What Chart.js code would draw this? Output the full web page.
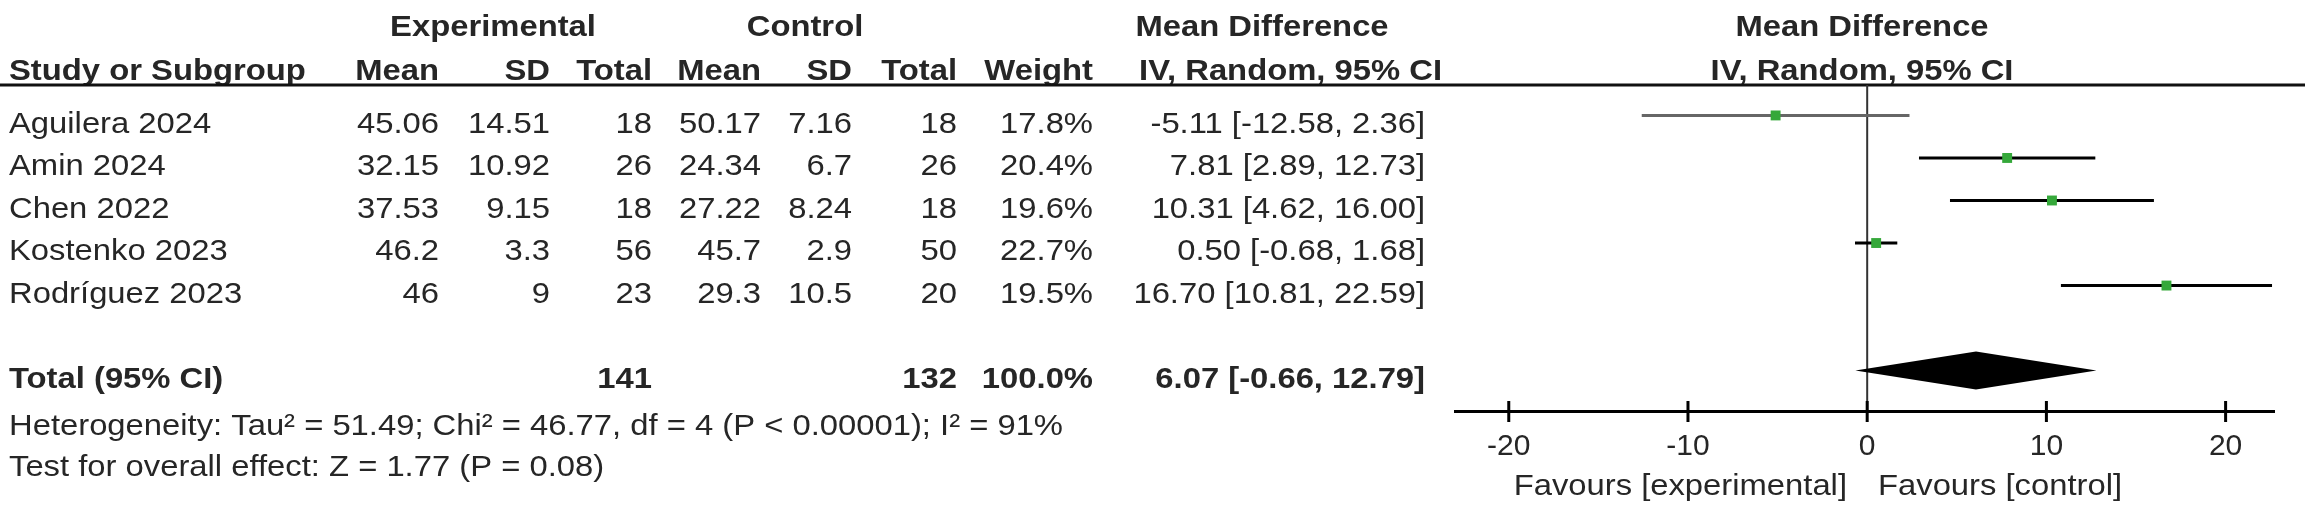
<!DOCTYPE html>
<html>
<head>
<meta charset="utf-8">
<script src="https://cdn.jsdelivr.net/npm/chart.js@4/dist/chart.umd.min.js"></script>
<style>
html,body{margin:0;padding:0;background:#fff;}
#wrap{width:2305px;height:508px;}
</style>
</head>
<body>
<div id="wrap"><canvas id="forest"></canvas></div>
<script>
const studies = ["Aguilera 2024", "Amin 2024", "Chen 2022", "Kostenko 2023", "Rodríguez 2023"];
const expMean = ["45.06", "32.15", "37.53", "46.2", "46"];
const expSD = ["14.51", "10.92", "9.15", "3.3", "9"];
const expN = [18, 26, 18, 56, 23];
const ctlMean = ["50.17", "24.34", "27.22", "45.7", "29.3"];
const ctlSD = ["7.16", "6.7", "8.24", "2.9", "10.5"];
const ctlN = [18, 26, 18, 50, 20];
const weights = ["17.8%", "20.4%", "19.6%", "22.7%", "19.5%"];
const md = [-5.11, 7.81, 10.31, 0.50, 16.70];
const lower = [-12.58, 2.89, 4.62, -0.68, 10.81];
const upper = [2.36, 12.73, 16.00, 1.68, 22.59];
const ciText = ["-5.11 [-12.58, 2.36]", "7.81 [2.89, 12.73]", "10.31 [4.62, 16.00]", "0.50 [-0.68, 1.68]", "16.70 [10.81, 22.59]"];
const total = {est: 6.07, lo: -0.66, hi: 12.79, expN: 141, ctlN: 132, weight: "100.0%", text: "6.07 [-0.66, 12.79]"};
const heterogeneity = "Heterogeneity: Tau² = 51.49; Chi² = 46.77, df = 4 (P < 0.00001); I² = 91%";
const overall = "Test for overall effect: Z = 1.77 (P = 0.08)";
const xTicks = [-20, -10, 0, 10, 20];

const ink = "#262626";
const FONT = '"Liberation Sans", Arial, sans-serif';
let squeeze = 1;

function txt(ctx, s, x, y, align, bold){
    ctx.save();
    ctx.font = (bold ? "bold " : "") + "30px " + FONT;
    ctx.textBaseline = "middle";
    ctx.fillStyle = ink;
    const w = ctx.measureText(s).width * squeeze;
    let left = x;
    if(align === "right") left = x - w;
    if(align === "center") left = x - w / 2;
    ctx.translate(left, y);
    ctx.scale(squeeze, 1);
    ctx.fillText(s, 0, 0);
    ctx.restore();
}

const forestPlugin = {
    id: "forest",
    beforeDatasetsDraw(chart){
        const ctx = chart.ctx, xs = chart.scales.x, ys = chart.scales.y;
        ctx.save();
        ctx.font = "30px " + FONT;
        squeeze = 1054 / ctx.measureText(heterogeneity).width;

        // header
        txt(ctx, "Experimental", 493, 28, "center", true);
        txt(ctx, "Control", 805, 28, "center", true);
        txt(ctx, "Mean Difference", 1262, 28, "center", true);
        txt(ctx, "Mean Difference", 1862, 28, "center", true);
        txt(ctx, "Study or Subgroup", 9, 72, "left", true);
        const heads = [["Mean",439],["SD",550],["Total",652],["Mean",761],["SD",852],["Total",957],["Weight",1093]];
        heads.forEach(h => txt(ctx, h[0], h[1], 72, "right", true));
        txt(ctx, "IV, Random, 95% CI", 1442, 72, "right", true);
        txt(ctx, "IV, Random, 95% CI", 1862, 72, "center", true);
        ctx.strokeStyle = "#111";
        ctx.lineWidth = 3;
        ctx.beginPath(); ctx.moveTo(0, 85); ctx.lineTo(2305, 85); ctx.stroke();

        // rows
        studies.forEach((s, i) => {
            const y = ys.getPixelForValue(i + 1) + 9;
            txt(ctx, s, 9, y, "left");
            txt(ctx, expMean[i], 439, y, "right");
            txt(ctx, expSD[i], 550, y, "right");
            txt(ctx, String(expN[i]), 652, y, "right");
            txt(ctx, ctlMean[i], 761, y, "right");
            txt(ctx, ctlSD[i], 852, y, "right");
            txt(ctx, String(ctlN[i]), 957, y, "right");
            txt(ctx, weights[i], 1093, y, "right");
            txt(ctx, ciText[i], 1425, y, "right");
        });
        const ty = ys.getPixelForValue(7) + 9;
        txt(ctx, "Total (95% CI)", 9, ty, "left", true);
        txt(ctx, String(total.expN), 652, ty, "right", true);
        txt(ctx, String(total.ctlN), 957, ty, "right", true);
        txt(ctx, total.weight, 1093, ty, "right", true);
        txt(ctx, total.text, 1425, ty, "right", true);
        txt(ctx, heterogeneity, 9, 427, "left");
        txt(ctx, overall, 9, 468, "left");

        // zero line
        const x0 = xs.getPixelForValue(0);
        ctx.strokeStyle = "#333";
        ctx.lineWidth = 2;
        ctx.beginPath(); ctx.moveTo(x0, 85); ctx.lineTo(x0, xs.top); ctx.stroke();

        // CI lines
        ctx.lineWidth = 3;
        md.forEach((m, i) => {
            const y = ys.getPixelForValue(i + 1);
            ctx.strokeStyle = i === 0 ? "#666" : "#000";
            ctx.beginPath();
            ctx.moveTo(xs.getPixelForValue(lower[i]), y);
            ctx.lineTo(xs.getPixelForValue(upper[i]), y);
            ctx.stroke();
        });

        // diamond
        const dy = ys.getPixelForValue(7);
        ctx.fillStyle = "#000";
        ctx.beginPath();
        ctx.moveTo(xs.getPixelForValue(total.lo), dy);
        ctx.lineTo(xs.getPixelForValue(total.est), dy - 19);
        ctx.lineTo(xs.getPixelForValue(total.hi), dy);
        ctx.lineTo(xs.getPixelForValue(total.est), dy + 19);
        ctx.closePath();
        ctx.fill();

        // axis ticks crossing the axis line
        ctx.strokeStyle = "#000";
        ctx.lineWidth = 3;
        xTicks.forEach(t => {
            const px = xs.getPixelForValue(t);
            ctx.beginPath(); ctx.moveTo(px, xs.top - 10); ctx.lineTo(px, xs.top + 11); ctx.stroke();
        });

        txt(ctx, "Favours [experimental]", 1847, 487, "right");
        txt(ctx, "Favours [control]", 1878, 487, "left");
        ctx.restore();
    }
};

new Chart(document.getElementById("forest"), {
    type: "scatter",
    data: {
        datasets: [{
            data: md.map((m, i) => ({x: m, y: i + 1})),
            pointStyle: "rect",
            pointRadius: 7,
            pointHoverRadius: 7,
            backgroundColor: "#35a83a",
            borderColor: "#35a83a",
            borderWidth: 0
        }]
    },
    options: {
        responsive: true,
        maintainAspectRatio: false,
        animation: false,
        layout: {padding: {left: 1455, right: 31, top: 0, bottom: 0}},
        plugins: {legend: {display: false}, tooltip: {enabled: false}},
        scales: {
            x: {
                type: "linear",
                min: -23,
                max: 22.7,
                afterFit(scale){ scale.height = 97; },
                afterBuildTicks(scale){ scale.ticks = xTicks.map(v => ({value: v})); },
                grid: {drawOnChartArea: false, drawTicks: false},
                border: {color: "#000", width: 3},
                ticks: {
                    color: ink,
                    padding: 18,
                    font: {family: FONT, size: 30}
                }
            },
            y: {
                display: false,
                reverse: true,
                min: -1.55,
                max: 7.95
            }
        }
    },
    plugins: [forestPlugin]
});
</script>
</body>
</html>
